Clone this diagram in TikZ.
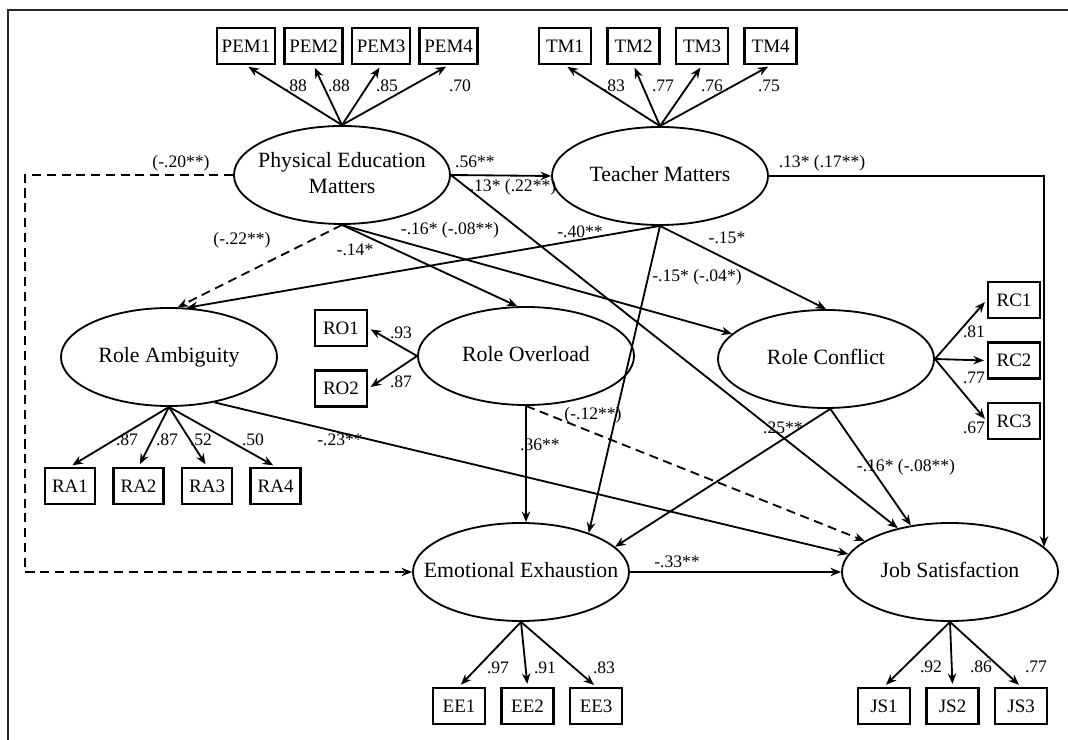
\documentclass[tikz,border=0pt]{standalone}
\usepackage{fontspec}
\setmainfont{Liberation Serif}
\usetikzlibrary{arrows.meta,shapes,positioning,calc}
\newcommand{\lv}[1]{\makebox[0pt]{\begin{tabular}{@{}c@{}}#1\end{tabular}}}

\begin{document}
\begin{tikzpicture}[
    x=0.025cm,y=-0.025cm,
    lat/.style={ellipse,draw,line width=1.3pt,minimum width=5.4cm,minimum height=2.45cm,inner sep=0pt,font=\fontsize{15.5}{18.5}\selectfont},
    ind/.style={rectangle,draw,line width=1.8pt,minimum width=1.3cm,minimum height=0.9cm,inner sep=1pt,font=\fontsize{13.5}{15}\selectfont},
    lbl/.style={inner sep=1pt,font=\fontsize{12.5}{14}\selectfont},
    arrow/.style={line width=1.3pt,->,>={Stealth[length=7.5pt,width=6pt]}},
    loading/.style={line width=1.3pt,->,>={Stealth[length=7.5pt,width=6pt]},shorten >=2pt},
    dpath/.style={line width=1.3pt,->,>={Stealth[length=7.5pt,width=6pt]},dash pattern=on 6.5pt off 4pt}
]
    \useasboundingbox (0,0) rectangle (1068,740);
    \draw[line width=1.2pt,black!85] (1068,10) -- (8,10) -- (8,740);

    % latent factors
    \node[lat] (pem) at (342,175) {\lv{Physical Education\\Matters}};
    \node[lat] (tm) at (660,176) {\lv{Teacher Matters}};
    \node[lat] (ra) at (169,357) {\lv{Role Ambiguity}};
    \node[lat] (ro) at (526,356) {\lv{Role Overload}};
    \node[lat] (rc) at (826,359) {\lv{Role Conflict}};
    \node[lat] (ee) at (521,572) {\lv{Emotional Exhaustion}};
    \node[lat] (js) at (950,572) {\lv{Job Satisfaction}};

    % indicators
    \node[ind,minimum width=1.45cm] (pem1) at (246,46) {PEM1};
    \node[ind,minimum width=1.45cm,right=0.175cm of pem1] (pem2) {PEM2};
    \node[ind,minimum width=1.45cm,right=0.175cm of pem2] (pem3) {PEM3};
    \node[ind,minimum width=1.45cm,right=0.175cm of pem3] (pem4) {PEM4};
    \node[ind] (tm1) at (565,46) {TM1};
    \node[ind,right=0.35cm of tm1] (tm2) {TM2};
    \node[ind,right=0.35cm of tm2] (tm3) {TM3};
    \node[ind,right=0.35cm of tm3] (tm4) {TM4};
    \node[ind,minimum width=1.25cm] (ra1) at (70,486) {RA1};
    \node[ind,minimum width=1.25cm,right=0.4cm of ra1] (ra2) {RA2};
    \node[ind,minimum width=1.25cm,right=0.4cm of ra2] (ra3) {RA3};
    \node[ind,minimum width=1.25cm,right=0.4cm of ra3] (ra4) {RA4};
    \node[ind] (ro1) at (341,328) {RO1};
    \node[ind,below=0.55cm of ro1] (ro2) {RO2};
    \node[ind] (rc1) at (1014,300) {RC1};
    \node[ind,below=0.55cm of rc1] (rc2) {RC2};
    \node[ind,below=0.55cm of rc2] (rc3) {RC3};
    \node[ind] (ee1) at (459,706) {EE1};
    \node[ind,right=0.35cm of ee1] (ee2) {EE2};
    \node[ind,right=0.35cm of ee2] (ee3) {EE3};
    \node[ind] (js1) at (884,706) {JS1};
    \node[ind,right=0.35cm of js1] (js2) {JS2};
    \node[ind,right=0.35cm of js2] (js3) {JS3};

    % measurement paths
    \draw[loading] (pem.north) -- (pem1.south);
    \draw[loading] (pem.north) -- (pem2.south);
    \draw[loading] (pem.north) -- (pem3.south);
    \draw[loading] (pem.north) -- (pem4.south);
    \draw[loading] (tm.north) -- (tm1.south);
    \draw[loading] (tm.north) -- (tm2.south);
    \draw[loading] (tm.north) -- (tm3.south);
    \draw[loading] (tm.north) -- (tm4.south);
    \draw[loading] (ra.south) -- (ra1.north);
    \draw[loading] (ra.south) -- (ra2.north);
    \draw[loading] (ra.south) -- (ra3.north);
    \draw[loading] (ra.south) -- (ra4.north);
    \draw[loading] (ro.west) -- (ro1.east);
    \draw[loading] (ro.west) -- (ro2.east);
    \draw[loading] (rc.east) -- (rc1.west);
    \draw[loading] (rc.east) -- (rc2.west);
    \draw[loading] (rc.east) -- (rc3.west);
    \draw[loading] (ee.south) -- (ee1.north);
    \draw[loading] (ee.south) -- (ee2.north);
    \draw[loading] (ee.south) -- (ee3.north);
    \draw[loading] (js.south) -- (js1.north);
    \draw[loading] (js.south) -- (js2.north);
    \draw[loading] (js.south) -- (js3.north);

    % structural paths
    \draw[arrow] (pem.east) -- (tm.west);
    \draw[dpath] (pem.west) -- ++(-208,0) |- (ee.west);
    \draw[arrow] (pem.east) -- (js.140);
    \draw[dpath] (pem.south) -- (ra.80);
    \draw[arrow] (pem.south) -- (ro.100);
    \draw[arrow] (pem.south) -- (rc.165);
    \draw[arrow] (tm.south) -- (ra.70);
    \draw[arrow] (tm.south) -- (rc.north);
    \draw[arrow] (tm.south) -- (ee.30);
    \draw[arrow] (tm.east) -| (js.15);
    \draw[arrow] (rc.-85) -- (ee.15);
    \draw[arrow] (rc.-85) -- (js.130);
    \draw[arrow] (ra.-45) -- (js.170);
    \draw[arrow] (ee.east) -- (js.west);
    \draw[arrow] (ro.south) -- (ro.south |- ee.north);
    \draw[dpath] (ro.south) -- (js.160);

    % loadings
    \node[lbl] (wpem1) at (296,86) {.88};
    \node[lbl] (wpem2) at (339,86) {.88};
    \node[lbl] (wpem3) at (387,86) {.85};
    \node[lbl] (wpem4) at (460,86) {.70};
    \node[lbl] (wtm1) at (614,86) {.83};
    \node[lbl] (wtm2) at (663,86) {.77};
    \node[lbl] (wtm3) at (712,86) {.76};
    \node[lbl] (wtm4) at (769,86) {.75};
    \node[lbl] (wra1) at (127,440) {.87};
    \node[lbl] (wra2) at (167,440) {.87};
    \node[lbl] (wra3) at (201,440) {.52};
    \node[lbl] (wra4) at (253,440) {.50};
    \node[lbl] (wro1) at (401,333) {.93};
    \node[lbl] (wro2) at (401,382) {.87};
    \node[lbl] (wrc1) at (974,332) {.81};
    \node[lbl] (wrc2) at (974,378) {.77};
    \node[lbl] (wrc3) at (974,428) {.67};
    \node[lbl] (wee1) at (498,668) {.97};
    \node[lbl] (wee2) at (545,668) {.91};
    \node[lbl] (wee3) at (604,668) {.83};
    \node[lbl] (wjs1) at (931,667) {.92};
    \node[lbl] (wjs2) at (981,667) {.86};
    \node[lbl] (wjs3) at (1036,667) {.77};

    % path coefficients
    \node[lbl] (bpemee) at (181,163) {(-.20**)};
    \node[lbl] (bpemtm) at (475,162) {.56**};
    \node[lbl] (bpemjs) at (513,187) {.13* (.22**)};
    \node[lbl] (btmjs) at (822,163) {.13* (.17**)};
    \node[lbl] (bpemrc) at (450,230) {-.16* (-.08**)};
    \node[lbl] (btmra) at (580,232) {-.40**};
    \node[lbl] (btmrc) at (727,238) {-.15*};
    \node[lbl] (bpemra) at (242,240) {(-.22**)};
    \node[lbl] (bpemro) at (355,250) {-.14*};
    \node[lbl] (btmee) at (697,277) {-.15* (-.04*)};
    \node[lbl] (brojs) at (593,415) {(-.12**)};
    \node[lbl] (brcee) at (783,428) {.25**};
    \node[lbl] (broee) at (540,445) {.36**};
    \node[lbl] (brajs) at (340,440) {-.23**};
    \node[lbl] (brcjs) at (906,467) {-.16* (-.08**)};
    \node[lbl] (beejs) at (677,562) {-.33**};
\end{tikzpicture}
\end{document}
